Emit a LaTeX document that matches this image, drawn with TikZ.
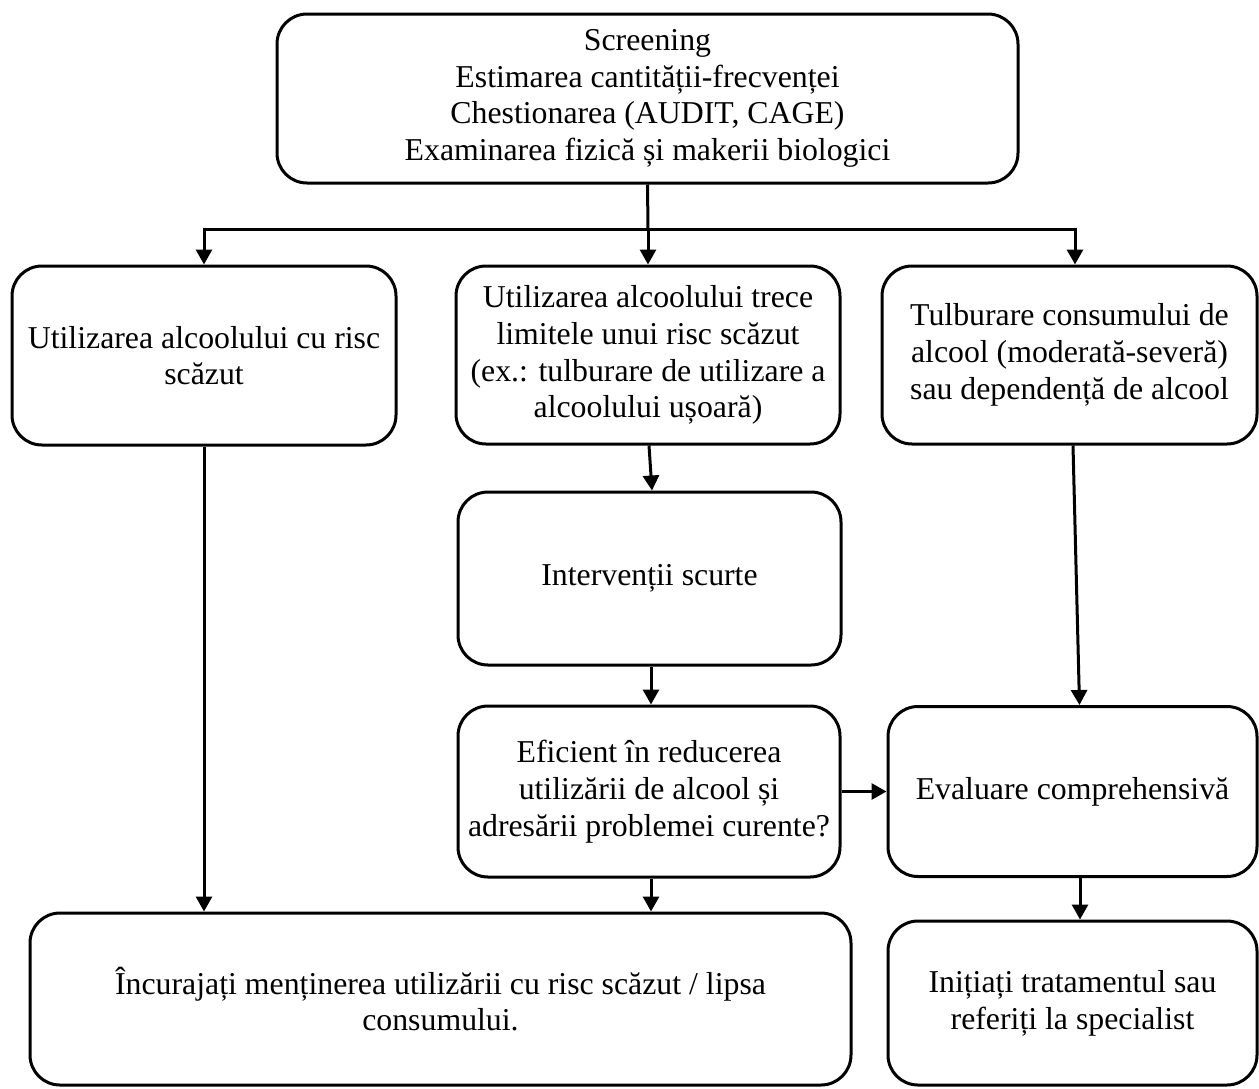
\documentclass[tikz,border=0pt]{standalone}
\usepackage{fontspec}
\setmainfont{Liberation Serif}
\usetikzlibrary{arrows.meta}
\begin{document}
\begin{tikzpicture}[x=1pt,y=-1pt,
  box/.style={draw=black,line width=3pt,rounded corners=30pt,rectangle,inner sep=0pt,
    align=center,font=\fontsize{31.8}{36.7}\selectfont},
  arr/.style={line width=3pt,-{Triangle[length=15pt,width=16pt]}},
  ln/.style={line width=3pt}]
\useasboundingbox (0,0) rectangle (1259,1088);
\node[box,minimum width=741pt,minimum height=169pt] (top) at (647.5,98.5)
  {Screening\\Estimarea cantității-frecvenței\\Chestionarea (AUDIT, CAGE)\\Examinarea fizică și makerii biologici};
\node[box,minimum width=384pt,minimum height=179pt] (left) at (204,355.5)
  {Utilizarea alcoolului cu risc\\scăzut};
\node[box,minimum width=384pt,minimum height=178pt] (mid) at (648,355)
  {Utilizarea alcoolului trece\\limitele unui risc scăzut\\(ex.: tulburare de utilizare a\\alcoolului ușoară)};
\node[box,minimum width=375pt,minimum height=178pt] (right) at (1069.5,355)
  {Tulburare consumului de\\alcool (moderată-severă)\\sau dependență de alcool};
\node[box,minimum width=383pt,minimum height=173pt] (intv) at (649.5,578.5)
  {Intervenții scurte};
\node[box,minimum width=382pt,minimum height=171pt] (efic) at (649,791.5)
  {Eficient în reducerea\\utilizării de alcool și\\adresării problemei curente?};
\node[box,minimum width=369pt,minimum height=170pt] (eval) at (1072.5,791.5)
  {Evaluare comprehensivă};
\node[box,minimum width=821pt,minimum height=172pt] (bl) at (440.5,999)
  {Încurajați menținerea utilizării cu risc scăzut / lipsa\\consumului.};
\node[box,minimum width=369pt,minimum height=164pt] (br) at (1072.5,1003)
  {Inițiați tratamentul sau\\referiți la specialist};
\coordinate (j) at (648,229);
\draw[ln] (top.south) -- (j);
\draw[arr] (j) -| (left.north);
\draw[arr] (j) -- (mid.north);
\draw[arr] (j) -| ([xshift=5.5pt]right.north);
\draw[arr] (left.south) -- (left.south |- bl.north);
\draw[arr] ([xshift=1pt]mid.south) -- ([xshift=2.5pt]intv.north);
\draw[arr] ([xshift=1.5pt]intv.south) -- ([xshift=2pt]efic.north);
\draw[arr] ([xshift=2pt]efic.south) -- ([xshift=2pt]efic.south |- bl.north);
\draw[arr] ([xshift=3.5pt]right.south) -- ([xshift=7pt]eval.north);
\draw[arr] (efic.east) -- (eval.west);
\draw[arr] ([xshift=7.5pt]eval.south) -- ([xshift=7.5pt]br.north);
\end{tikzpicture}
\end{document}
